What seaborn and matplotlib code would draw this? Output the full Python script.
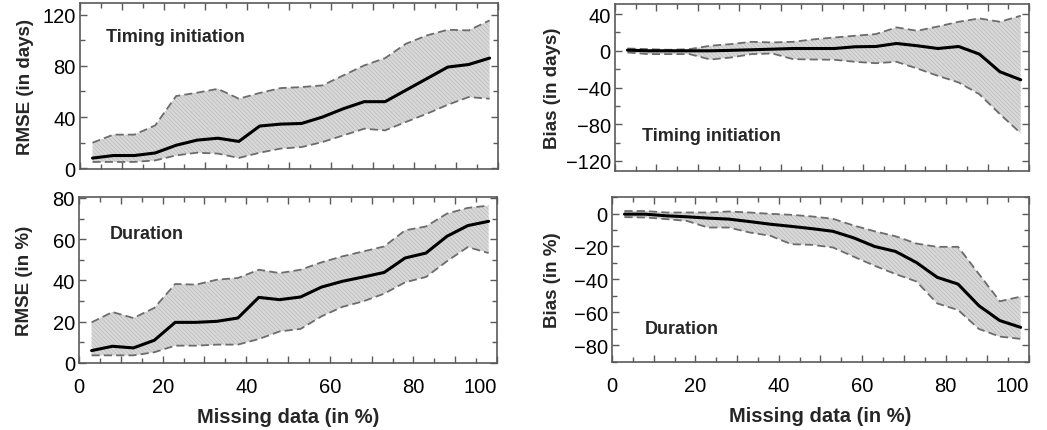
import matplotlib
matplotlib.use("Agg")
import matplotlib.pyplot as plt
from matplotlib.ticker import MultipleLocator, FixedLocator
import numpy as np
import pandas as pd
import seaborn as sns

# Percentage of missing data (bin centres)
missing = [3, 8, 13, 18, 23, 28, 33, 38, 43, 48, 53, 58, 63, 68, 73, 78, 83, 88, 93, 98]

# RMSE of timing of initiation (days): median and envelope
rmse_days_mid = [8, 10, 10, 12, 18, 22, 23.5, 21, 33, 34.5, 35, 40, 46.5, 52, 52, 61, 70, 79, 81, 86]
rmse_days_hi = [20, 26.3, 26.3, 33.5, 56.4, 59, 62, 54.3, 58.8, 62.6, 63.4, 64.7, 72.5, 80.3, 86, 97.2, 103.7, 108.1, 107.6, 115.4]
rmse_days_lo = [5, 5, 5, 6.2, 10.1, 12.2, 11.5, 8.1, 12.2, 15.4, 16.6, 20.5, 25.7, 30.9, 29.6, 36.2, 42.6, 49.6, 55.6, 54.3]

# RMSE of duration (%)
rmse_pct_mid = [6, 8.1, 7.3, 11, 19.7, 19.7, 20.2, 21.8, 31.8, 30.7, 32, 36.8, 39.6, 41.7, 43.9, 50.9, 53.3, 61.4, 66.6, 68.7]
rmse_pct_hi = [19.7, 24.7, 21.8, 26.7, 38.3, 38, 40.4, 41.2, 45.2, 43.6, 45.2, 48.8, 51.7, 54.1, 56.5, 64.3, 66.2, 72.4, 75.2, 76.3]
rmse_pct_lo = [3.7, 3.7, 3.7, 5.2, 8.4, 8.4, 8.9, 8.9, 11.6, 15.3, 16.5, 22.6, 27.2, 29.9, 33.6, 39.1, 41.7, 49.3, 56.2, 53.3]

# Bias of timing of initiation (days)
bias_days_mid = [0.7, 0, 0, 0, 0, 0.5, 1.1, 1.8, 2.5, 2.5, 2.5, 4.4, 4.7, 8, 5.5, 2.5, 4.7, -3.6, -22.9, -31.6]
bias_days_hi = [2.5, 1.8, 1.1, 1.8, 5.5, 7.3, 9.8, 9.1, 9.8, 12.5, 14.5, 16.4, 18.2, 25.5, 21.8, 26.5, 31.6, 35.3, 31.6, 38.2]
bias_days_lo = [-1.8, -3.6, -3.6, -3.6, -9.5, -7.3, -3.6, -2.9, -9.1, -9.5, -9.8, -12, -13.5, -12, -19.3, -27.3, -34.5, -47.3, -69.1, -89.8]

# Bias of duration (%)
bias_pct_mid = [-0.4, -0.4, -1.4, -2, -2.8, -3.4, -4.9, -6.5, -7.8, -9.2, -10.8, -14.8, -20, -23, -29.7, -38.7, -42.8, -55.9, -64.9, -69]
bias_pct_hi = [1.5, 1.5, 0.6, 0.6, 0.6, 1.2, 0.6, -0.2, -0.8, -1.8, -3.2, -7.3, -10.8, -13.8, -18.2, -20.2, -20.2, -36.7, -53.2, -50.4]
bias_pct_lo = [-2.2, -2.4, -3.4, -4.5, -8.5, -8.5, -11.5, -13.5, -18.6, -19, -20.6, -26.2, -31.7, -36.7, -41.2, -54.5, -58.5, -70, -74.6, -76]

sns.set_style("ticks")
plt.rcParams["font.family"] = ["Liberation Sans", "DejaVu Sans"]
plt.rcParams["hatch.linewidth"] = 0.4

FRAME = "#5a5a5a"

fig = plt.figure(figsize=(10.47, 4.31), dpi=100)

panels = [
    # position, mid, lo, hi, ylim, labelled yticks, minor ystep, ylabel, ylabel x, title, title pos, bottom row
    ([0.0764, 0.6056, 0.3992, 0.3852], rmse_days_mid, rmse_days_lo, rmse_days_hi,
     (-0.5, 129), [0, 40, 80, 120], 20, "RMSE (in days)", -0.110, "Timing initiation", (0.062, 0.80), False),
    ([0.5874, 0.6009, 0.3954, 0.3875], bias_days_mid, bias_days_lo, bias_days_hi,
     (-131, 51), [-120, -80, -40, 0, 40], 20, "Bias (in days)", -0.130, "Timing initiation", (0.066, 0.21), False),
    ([0.0755, 0.1555, 0.3992, 0.3852], rmse_pct_mid, rmse_pct_lo, rmse_pct_hi,
     (0, 80.5), [0, 20, 40, 60, 80], 10, "RMSE (in %)", -0.110, "Duration", (0.074, 0.78), True),
    ([0.5845, 0.1578, 0.3983, 0.3828], bias_pct_mid, bias_pct_lo, bias_pct_hi,
     (-90, 10), [-80, -60, -40, -20, 0], 10, "Bias (in %)", -0.122, "Duration", (0.079, 0.206), True),
]

for pos, mid, lo, hi, ylim, yticks, ystep, ylabel, ylx, title, tpos, bottom in panels:
    ax = fig.add_axes(pos)
    df = pd.DataFrame({"missing": missing, "mid": mid, "lo": lo, "hi": hi})

    # shaded envelope between the lower and upper bounds
    ax.fill_between(df["missing"], df["lo"], df["hi"], facecolor="#d8d8d8",
                    edgecolor="#b4b4b4", hatch="\\\\\\\\\\\\\\\\", linewidth=0, zorder=1)
    for col in ("lo", "hi"):
        sns.lineplot(data=df, x="missing", y=col, ax=ax, color="#6c6c6c", lw=1.3,
                     linestyle=(0, (4.5, 2.3)), zorder=2)
    sns.lineplot(data=df, x="missing", y="mid", ax=ax, color="black", lw=2.2, zorder=3)

    ax.set_xlim(0, 100)
    ax.set_ylim(*ylim)

    ax.xaxis.set_major_locator(MultipleLocator(10))
    ax.xaxis.set_minor_locator(MultipleLocator(5))
    ax.yaxis.set_major_locator(FixedLocator(yticks))
    ax.yaxis.set_minor_locator(MultipleLocator(ystep))

    ax.tick_params(which="both", direction="in", top=True, right=True, color=FRAME,
                   width=1.0, labelsize=14.5, labelcolor="black")
    ax.tick_params(which="major", length=5)
    ax.tick_params(which="minor", length=3.5)
    ax.tick_params(axis="y", pad=3)
    ax.tick_params(axis="x", pad=10)

    xt = list(range(0, 101, 10))
    ax.set_xticks(xt)
    if bottom:
        ax.set_xticklabels([str(v) if v % 20 == 0 else "" for v in xt])
        ax.get_xticklabels()[-1].set_horizontalalignment("right")
        ax.set_xlabel("Missing data (in %)", fontsize=14.5, fontweight="bold", labelpad=8)
    else:
        ax.set_xticklabels([])
        ax.set_xlabel("")

    ax.set_ylabel(ylabel, fontsize=13.5, fontweight="bold")
    ax.yaxis.set_label_coords(ylx, 0.5)

    for sp in ax.spines.values():
        sp.set_visible(True)
        sp.set_color(FRAME)
        sp.set_linewidth(1.2)

    ax.text(tpos[0], tpos[1], title, transform=ax.transAxes, fontsize=13,
            fontweight="bold", ha="left", va="center")

fig.savefig("out.png", dpi=100)
